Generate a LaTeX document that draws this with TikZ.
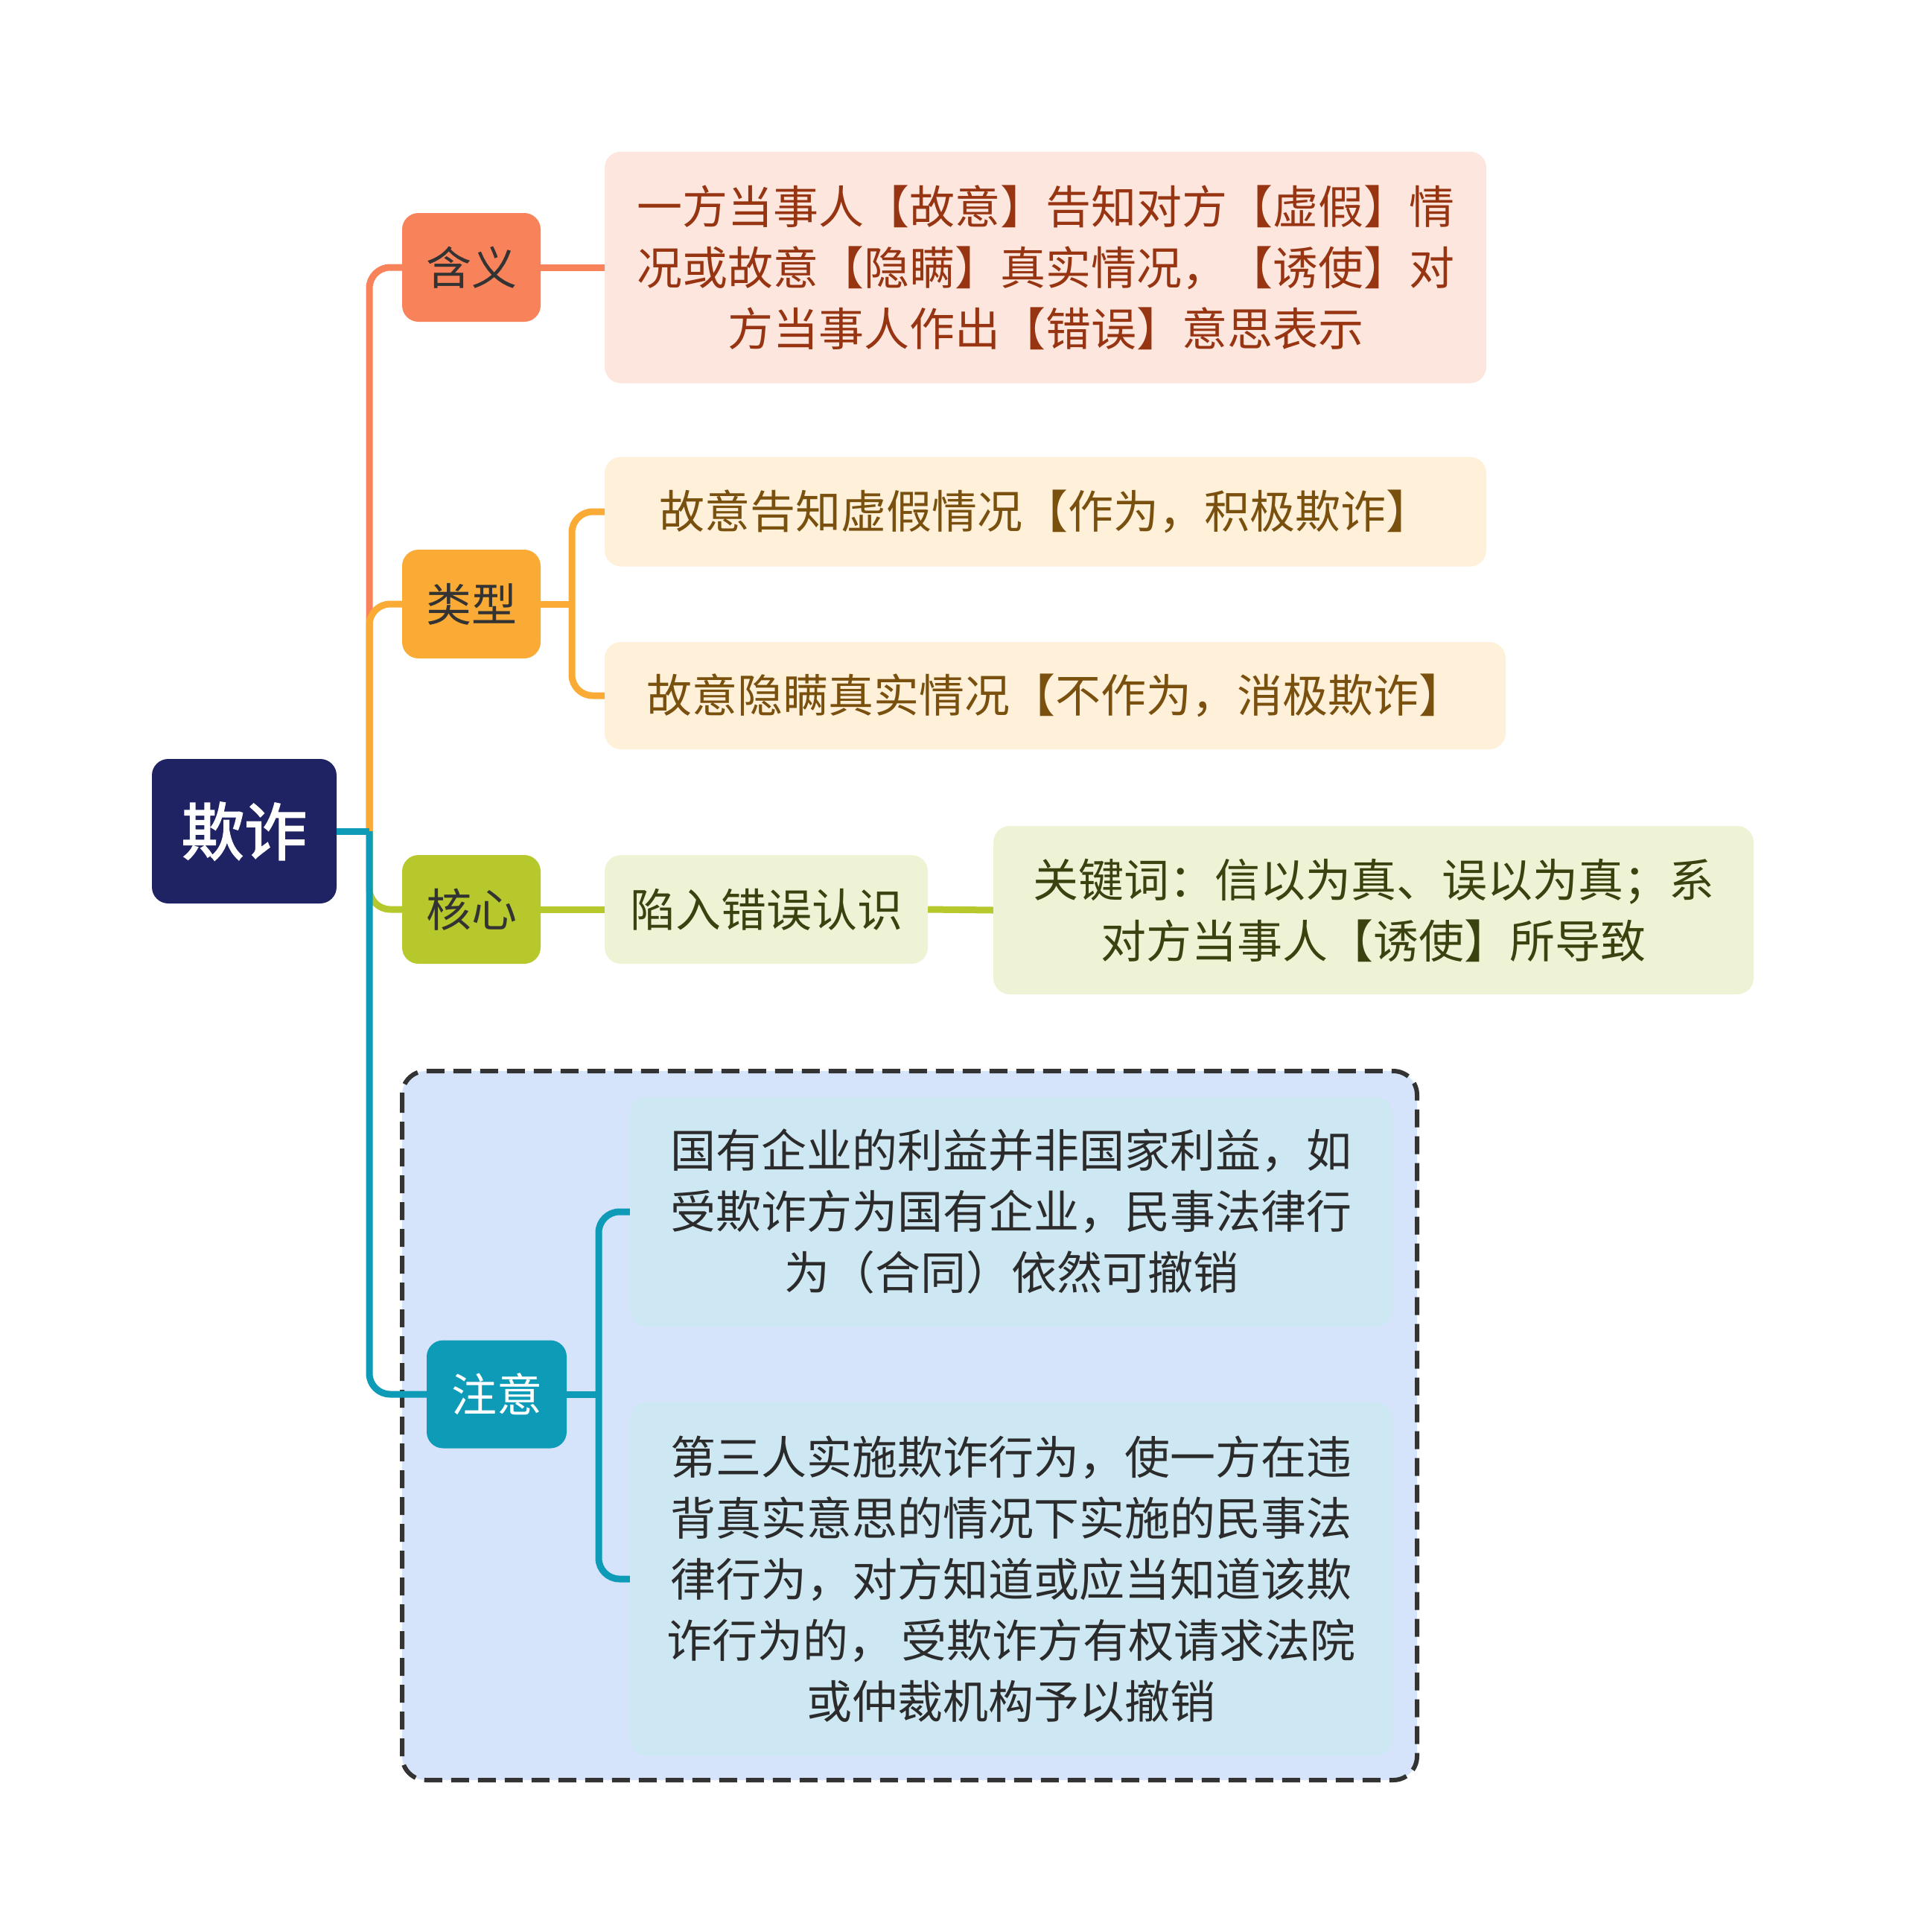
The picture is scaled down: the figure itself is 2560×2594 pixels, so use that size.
\documentclass[tikz,border=0pt]{standalone}
\usepackage{fontspec}
\newfontfamily\cjk{Noto Sans CJK SC}
\newfontfamily\cjkb[FakeBold=2.5]{Noto Sans CJK SC}
\definecolor{rootc}{HTML}{1F2363}
\definecolor{hyc}{HTML}{F8825A}
\definecolor{hyf}{HTML}{FDE6DD}
\definecolor{hyt}{HTML}{973412}
\definecolor{lxc}{HTML}{FAAB36}
\definecolor{lxf}{HTML}{FEF0D9}
\definecolor{lxt}{HTML}{7A500E}
\definecolor{hxc}{HTML}{B6C82C}
\definecolor{hxf}{HTML}{EFF3D6}
\definecolor{hxt}{HTML}{3B4210}
\definecolor{zyc}{HTML}{0E9BB8}
\definecolor{zyf}{HTML}{CDE8F2}
\definecolor{zybg}{HTML}{D6E4FB}
\definecolor{labt}{HTML}{333333}
\definecolor{notet}{HTML}{2B2B2B}
\tikzset{
  box/.style={rounded corners=22pt, inner sep=0pt, align=center, font=\cjk\fontsize{61pt}{82pt}\selectfont},
  conn/.style={line width=9pt},
}
\begin{document}
\begin{tikzpicture}[x=1pt,y=-1pt]
\useasboundingbox (0,0) rectangle (2560,2594);
\fill[white] (0,0) rectangle (2560,2594);
% dashed group
\draw[fill=zybg, draw=labt, line width=6pt, dash pattern=on 24pt off 12pt, rounded corners=32pt] (540,1438) rectangle (1903,2390);
% root
\node[box, fill=rootc, text=white, minimum width=248pt, minimum height=194pt, font=\cjkb\fontsize{84pt}{100pt}\selectfont] (root) at (328,1116) {欺诈};
% level 1
\node[box, fill=hyc, text=labt, minimum width=186pt, minimum height=146pt] (hy) at (633,359) {含义};
\node[box, fill=lxc, text=labt, minimum width=186pt, minimum height=146pt] (lx) at (633,811) {类型};
\node[box, fill=hxc, text=labt, minimum width=186pt, minimum height=146pt] (hx) at (633,1221) {核心};
\node[box, fill=zyc, text=white, minimum width=188pt, minimum height=145pt] (zy) at (667,1872) {注意};
% children
\node[box, fill=hyf, text=hyt, minimum width=1184pt, minimum height=311pt] (hy1) at (1404,359) {一方当事人【故意】告知对方【虚假】情\\况或故意【隐瞒】真实情况，【诱使】对\\方当事人作出【错误】意思表示};
\node[box, fill=lxf, text=lxt, minimum width=1184pt, minimum height=147pt] (lx1) at (1404,687) {故意告知虚假情况【作为，积极欺诈】};
\node[box, fill=lxf, text=lxt, minimum width=1210pt, minimum height=144pt] (lx2) at (1417,934) {故意隐瞒真实情况【不作为，消极欺诈】};
\node[box, fill=hxf, text=hxt, minimum width=434pt, minimum height=146pt] (hx1) at (1029,1221) {陷入错误认识};
\node[box, fill=hxf, text=hxt, minimum width=1021pt, minimum height=226pt] (hx2) at (1844.5,1222) {关键词：信以为真、误以为真；系\\对方当事人【诱使】所导致};
\node[box, fill=zyf, text=notet, minimum width=1024pt, minimum height=308pt] (zy1) at (1358,1627) {国有企业的利益并非国家利益，如\\受欺诈方为国有企业，民事法律行\\为（合同）依然可撤销};
\node[box, fill=zyf, text=notet, minimum width=1024pt, minimum height=474pt] (zy2) at (1358,2120) {第三人实施欺诈行为，使一方在违\\背真实意思的情况下实施的民事法\\律行为，对方知道或应当知道该欺\\诈行为的，\hspace{10pt}受欺诈方有权请求法院\\或仲裁机构予以撤销};
% connectors
\coordinate (J) at (496,1116);
\coordinate (TJ) at (768,811);
\coordinate (ZJ) at (804,1872);
\draw[conn, hyc, rounded corners=28pt] (J) |- (hy.west);
\draw[conn, lxc, rounded corners=28pt] (J) |- (lx.west);
\draw[conn, hxc, rounded corners=28pt] (J) |- (hx.west);
\draw[conn, zyc, rounded corners=28pt] (J) |- (zy.west);
\draw[conn, zyc] (root.east) -- (J);
\draw[conn, hyc] (hy.east) -- (hy1.west);
\draw[conn, lxc] (lx.east) -- (TJ);
\draw[conn, lxc, rounded corners=28pt] (TJ) |- (lx1.west);
\draw[conn, lxc, rounded corners=28pt] (TJ) |- (lx2.west);
\draw[conn, hxc] (hx.east) -- (hx1.west);
\draw[conn, hxc] (hx1.east) -- (hx2.west);
\draw[conn, zyc] (zy.east) -- (ZJ);
\draw[conn, zyc, rounded corners=28pt] (ZJ) |- (zy1.west);
\draw[conn, zyc, rounded corners=28pt] (ZJ) |- (zy2.west);
\end{tikzpicture}
\end{document}
